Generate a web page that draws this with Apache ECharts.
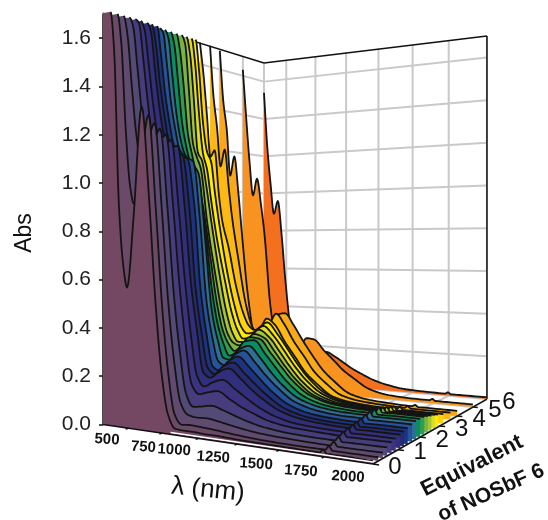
<!DOCTYPE html>
<html><head><meta charset="utf-8">
<style>html,body{margin:0;padding:0;background:#fff}#c{width:548px;height:520px}</style>
<script src="https://cdn.jsdelivr.net/npm/echarts@6/dist/echarts.min.js"></script>
</head><body><div id="c"></div>
<script>
const lambdaGrid=[550,580,610,640,675,710,740,790,850,905,950,995,1040,1090,1150,1225,1300,1373,1450,1565,1700,1850,1975,1995,2015,2100,2250];
const eqValues=[0,0.2,0.38,0.55,0.73,0.9,1.1,1.25,1.42,1.62,1.8,2,2.2,2.38,2.56,2.75,2.9,3.2,3.6,4,5,6];
const abs00=[1.7,1.7,1.7,1.53,0.92,0.66,0.57,0.86,1.3,0.93,0.53,0.24,0.08,0.025,0.022,0.022,0.02,0.02,0.018,0.016,0.015,0.014,0.013,0.025,0.012,0.012,0.01];
const abs01=[1.7,1.7,1.7,1.58,1.22,0.98,0.91,1.06,1.27,0.88,0.5,0.23,0.07,0.032,0.035,0.033,0.03,0.026,0.022,0.017,0.014,0.013,0.013,0.028,0.013,0.013,0.013];
const abs02=[1.7,1.7,1.7,1.62,1.4,1.2,1.1,1.15,1.24,0.88,0.52,0.27,0.11,0.065,0.058,0.06,0.054,0.046,0.038,0.029,0.024,0.021,0.02,0.035,0.019,0.019,0.02];
const abs03=[1.7,1.7,1.7,1.66,1.48,1.29,1.18,1.17,1.22,0.89,0.55,0.31,0.14,0.09,0.095,0.103,0.09,0.075,0.06,0.044,0.035,0.031,0.03,0.045,0.028,0.029,0.03];
const abs04=[1.7,1.7,1.7,1.68,1.52,1.34,1.22,1.17,1.2,0.89,0.58,0.34,0.17,0.135,0.145,0.155,0.13,0.105,0.085,0.06,0.047,0.042,0.04,0.055,0.038,0.039,0.04];
const abs05=[1.7,1.7,1.7,1.66,1.5,1.33,1.22,1.16,1.18,0.89,0.6,0.37,0.2,0.16,0.18,0.195,0.165,0.135,0.105,0.073,0.054,0.048,0.046,0.062,0.044,0.045,0.045];
const abs06=[1.7,1.7,1.7,1.66,1.48,1.32,1.22,1.15,1.16,0.89,0.58,0.38,0.21,0.19,0.215,0.235,0.2,0.16,0.125,0.085,0.063,0.054,0.051,0.066,0.049,0.05,0.05];
const abs07=[1.7,1.7,1.7,1.62,1.44,1.3,1.2,1.13,1.125,0.89,0.56,0.37,0.225,0.2,0.235,0.255,0.215,0.175,0.135,0.09,0.067,0.058,0.056,0.071,0.054,0.055,0.055];
const abs08=[1.7,1.7,1.7,1.58,1.4,1.27,1.18,1.12,1.11,0.9,0.55,0.36,0.225,0.21,0.25,0.275,0.235,0.19,0.145,0.097,0.072,0.063,0.061,0.076,0.059,0.06,0.06];
const abs09=[1.7,1.7,1.68,1.54,1.36,1.24,1.16,1.12,1.1,0.82,0.5,0.34,0.24,0.225,0.27,0.295,0.25,0.2,0.155,0.103,0.078,0.068,0.067,0.082,0.064,0.065,0.065];
const abs10=[1.7,1.7,1.66,1.5,1.32,1.2,1.14,1.1,1.05,0.74,0.46,0.33,0.25,0.245,0.29,0.31,0.265,0.21,0.16,0.108,0.083,0.073,0.072,0.087,0.069,0.07,0.07];
const abs11=[1.7,1.7,1.64,1.48,1.28,1.17,1.1,1.02,0.85,0.56,0.4,0.31,0.255,0.27,0.32,0.329,0.275,0.22,0.165,0.11,0.083,0.074,0.072,0.088,0.069,0.07,0.07];
const abs12=[1.7,1.7,1.62,1.46,1.24,1.14,1.06,0.93,0.7,0.48,0.36,0.3,0.27,0.295,0.335,0.33,0.275,0.22,0.165,0.11,0.083,0.074,0.072,0.088,0.069,0.07,0.07];
const abs13=[1.7,1.7,1.66,1.46,1.2,1.13,1.08,0.84,0.62,0.44,0.34,0.3,0.29,0.31,0.345,0.33,0.272,0.212,0.158,0.102,0.077,0.069,0.066,0.081,0.064,0.065,0.065];
const abs14=[1.7,1.7,1.62,1.42,1.16,1.12,1.02,0.82,0.6,0.43,0.34,0.3,0.3,0.325,0.36,0.33,0.27,0.208,0.153,0.098,0.072,0.064,0.061,0.076,0.059,0.06,0.06];
const abs15=[1.7,1.7,1.58,1.36,1.16,1.08,0.95,0.76,0.58,0.43,0.35,0.31,0.315,0.345,0.372,0.33,0.268,0.205,0.15,0.094,0.067,0.059,0.056,0.07,0.054,0.055,0.055];
const abs16=[1.7,1.7,1.55,1.32,1.17,1.12,0.98,0.78,0.58,0.44,0.36,0.33,0.335,0.36,0.385,0.335,0.27,0.205,0.148,0.09,0.062,0.055,0.052,0.065,0.05,0.05,0.05];
const abs17=[1.7,1.55,1.35,1.15,1.18,0.97,0.84,0.72,0.54,0.42,0.36,0.34,0.35,0.395,0.37,0.295,0.23,0.165,0.12,0.068,0.05,0.043,0.041,0.052,0.04,0.04,0.04];
const abs18=[1.7,1.45,1.3,1.11,1.19,1.0,0.85,0.66,0.45,0.34,0.31,0.31,0.36,0.41,0.365,0.285,0.22,0.155,0.11,0.059,0.041,0.034,0.031,0.04,0.03,0.03,0.03];
const abs19=[1.69,1.44,1.3,1.07,1.163,0.98,0.78,0.48,0.27,0.24,0.26,0.3,0.4,0.405,0.355,0.28,0.211,0.15,0.105,0.052,0.033,0.026,0.023,0.03,0.022,0.022,0.022];
const abs20=[1.63,1.38,1.15,0.98,1.065,0.93,0.78,0.42,0.2,0.15,0.15,0.17,0.22,0.265,0.26,0.21,0.165,0.12,0.085,0.04,0.02,0.014,0.013,0.02,0.012,0.012,0.012];
const abs21=[1.54,1.25,1.05,0.89,0.957,0.77,0.55,0.28,0.15,0.1,0.09,0.11,0.15,0.172,0.155,0.125,0.095,0.072,0.05,0.028,0.014,0.01,0.009,0.016,0.008,0.008,0.008];
const traces=[abs00,abs01,abs02,abs03,abs04,abs05,abs06,abs07,abs08,abs09,abs10,abs11,abs12,abs13,abs14,abs15,abs16,abs17,abs18,abs19,abs20,abs21];
const traceColors=['#744763','#6B4A68','#604A70','#544A76','#473C7C','#3B3380','#312E7C','#262A6E','#1D3382','#24539C','#2F6F94','#0C8C62','#2E9E50','#7AB342','#A3C639','#DEDC1F','#FFEC00','#FFD20A','#FDB913','#F9A81A','#F7931E','#F4701F'];
const absTicks=[0,0.2,0.4,0.6,0.8,1.0,1.2,1.4,1.6];
const lambdaTicks=[750,1000,1250,1500,1750,2000,2250];
const lambdaLabels=['500','750','1000','1250','1500','1750','2000'];
const lambdaLabelAt=[550,750,1000,1250,1500,1750,2000];
const lambdaLabelShift=[[4,15],[15,19],[12,17],[15,19],[19,20],[22,21],[24,20]];
const eqTicks=[0,1,2,3,4,5,6];
const LMIN=550,LMAX=2250,EMAX=6,AMAX=1.7;

// perspective box: floor corners and vertical scale of the 3-D axes frame
const P={x0:103,y0:424.5,a:187.6,b:246.4,c:-62.95,e:78.5,g:-0.2208,h:0.3236,s0:242,gs:-0.164,hs:0.2976};
const GRID={left:103,top:14,width:445,height:410.5};
function project(l,q,v){
  const u=(l-LMIN)/(LMAX-LMIN),w=q/EMAX;
  const d=1+P.g*u+P.h*w;
  const X=(P.x0+P.a*u+P.b*w)/d,Yf=(P.y0+P.c*u+P.e*w)/d;
  const S=P.s0/(1+P.gs*u+P.hs*w);
  return [X-P.x0,(P.y0-(Yf-v*S))/(GRID.height/AMAX)];
}
// monotone cubic through the read values, used only to draw a smooth curve
function curve(ys){
  const xs=lambdaGrid,n=xs.length,dl=[],m=[];
  for(let i=0;i<n-1;i++)dl.push((ys[i+1]-ys[i])/(xs[i+1]-xs[i]));
  m[0]=dl[0];m[n-1]=dl[n-2];
  for(let i=1;i<n-1;i++){
    if(dl[i-1]*dl[i]<=0)m[i]=0;
    else{const h0=xs[i]-xs[i-1],h1=xs[i+1]-xs[i];m[i]=3*(h0+h1)/((2*h1+h0)/dl[i-1]+(h1+2*h0)/dl[i]);}
  }
  const out=[];
  for(let i=0;i<n-1;i++){
    const h=xs[i+1]-xs[i],st=6;
    for(let k=0;k<st;k++){
      const t=k/st,t2=t*t,t3=t2*t;
      out.push([xs[i]+t*h,
        (2*t3-3*t2+1)*ys[i]+(t3-2*t2+t)*h*m[i]+(-2*t3+3*t2)*ys[i+1]+(t3-t2)*h*m[i+1]]);
    }
  }
  out.push([xs[n-1],ys[n-1]]);
  return out;
}
const grey='#c9c9c9';
const wallSegs=[];
lambdaTicks.forEach(l=>{wallSegs.push([l,EMAX,0,l,EMAX,AMAX]);wallSegs.push([l,0,0,l,EMAX,0]);});
absTicks.slice(1).forEach(a=>{wallSegs.push([LMIN,EMAX,a,LMAX,EMAX,a]);wallSegs.push([LMIN,0,a,LMIN,EMAX,a]);});
eqTicks.slice(1).forEach(q=>{wallSegs.push([LMIN,q,0,LMIN,q,AMAX]);if(q<EMAX)wallSegs.push([LMIN,q,0,LMAX,q,0]);});
wallSegs.push([LMIN,EMAX,0,LMAX,EMAX,0]);
const frameSegs=[[LMIN,0,AMAX,LMIN,EMAX,AMAX],[LMIN,EMAX,AMAX,LMAX,EMAX,AMAX],[LMAX,EMAX,AMAX,LMAX,EMAX,0]];
const axisSegs=[[LMIN,0,0,LMAX,0,0],[LMAX,0,0,LMAX,EMAX,0]];
lambdaTicks.slice(0,6).forEach(l=>axisSegs.push([l,0,0,l,-0.08,0]));
eqTicks.slice(0,6).forEach(q=>axisSegs.push([LMAX,q,0,LMAX+30,q,0]));
const sliverSegs=[[1060,0,0.007,LMAX,0,0.007]];

function segSeries(segs,color,width,z){
  return {type:'custom',coordinateSystem:'cartesian2d',z,silent:true,animation:false,clip:false,
    data:segs.map((s,i)=>[i]),
    renderItem(p,api){const s=segs[api.value(0)];
      const a=api.coord(project(s[0],s[1],s[2])),b=api.coord(project(s[3],s[4],s[5]));
      return {type:'line',shape:{x1:a[0],y1:a[1],x2:b[0],y2:b[1]},style:{stroke:color,lineWidth:width,fill:null}};}};
}
const curtains={type:'custom',coordinateSystem:'cartesian2d',z:3,silent:true,animation:false,clip:false,
  data:traces.map((t,i)=>[traces.length-1-i]),
  renderItem(p,api){
    const i=api.value(0),q=eqValues[i];
    const pts=curve(traces[i]);
    let first=0;pts.forEach((d,k)=>{if(d[1]>=AMAX-1e-6)first=k;});
    const toPx=d=>api.coord(project(d[0],q,Math.min(d[1],AMAX)));
    const line=pts.slice(first).map(toPx);
    const poly=[api.coord(project(LMIN,q,0))].concat(pts.map(toPx),[api.coord(project(LMAX,q,0))]);
    return {type:'group',children:[
      {type:'polygon',shape:{points:poly},style:{fill:traceColors[i],stroke:null}},
      {type:'polyline',shape:{points:line},style:{stroke:'#141414',lineWidth:1.8,fill:null,lineJoin:'round'}}
    ]};
  }};
const textFont='"Liberation Sans",Arial,sans-serif';
const lambdaText={type:'custom',coordinateSystem:'cartesian2d',z:6,silent:true,animation:false,clip:false,
  data:lambdaLabels.map((s,i)=>[i]),
  renderItem(p,api){const i=api.value(0),c=api.coord(project(lambdaLabelAt[i],0,0)),o=lambdaLabelShift[i];
    return {type:'text',x:c[0]+o[0],y:c[1]+o[1],rotation:-0.06,style:{text:lambdaLabels[i],font:'bold 15px '+textFont,fill:'#111',align:'center',verticalAlign:'middle'}};}};
const eqText={type:'custom',coordinateSystem:'cartesian2d',z:6,silent:true,animation:false,clip:false,
  data:eqTicks.map((s,i)=>[i]),
  renderItem(p,api){const q=eqTicks[api.value(0)],c=api.coord(project(LMAX,q,0));
    return {type:'text',x:c[0]+22,y:c[1]+3,style:{text:String(q),font:'24px '+textFont,fill:'#111',align:'center',verticalAlign:'middle'}};}};

const chart=echarts.init(document.getElementById('c'),null,{renderer:'canvas'});
chart.setOption({
  animation:false,backgroundColor:'#fff',
  grid:{left:GRID.left,top:GRID.top,width:GRID.width,height:GRID.height,containLabel:false},
  xAxis:{type:'value',min:0,max:GRID.width,show:false},
  yAxis:{type:'value',min:0,max:AMAX,position:'left',
    axisLine:{show:true,onZero:false,lineStyle:{color:'#111',width:1.5}},
    axisTick:{show:true,length:4,inside:false,customValues:absTicks,lineStyle:{color:'#111',width:1.5}},
    axisLabel:{show:true,margin:12,fontSize:21,color:'#222',fontFamily:textFont,customValues:absTicks,formatter:v=>Number(v).toFixed(1)},
    splitLine:{show:false}},
  graphic:[
    {type:'text',x:25,y:233,rotation:Math.PI/2,style:{text:'Abs',font:'23px '+textFont,fill:'#111',align:'center',verticalAlign:'middle'}},
    {type:'text',x:208,y:490,rotation:-0.1,style:{text:'λ (nm)',font:'26px '+textFont,fill:'#111',align:'center',verticalAlign:'middle'}},
    {type:'text',x:472,y:466,rotation:0.47,style:{text:'Equivalent',font:'bold 22px '+textFont,fill:'#111',align:'center',verticalAlign:'middle'}},
    {type:'text',x:491,y:493,rotation:0.42,style:{text:'of NOSbF 6',font:'bold 21px '+textFont,fill:'#111',align:'center',verticalAlign:'middle'}}
  ],
  series:[
    segSeries(wallSegs,grey,2,1),
    segSeries(frameSegs,'#111',1.5,2),
    curtains,
    segSeries(sliverSegs,'#fff',1.5,4),
    segSeries(axisSegs,'#111',1.5,5),
    lambdaText,eqText
  ]
});
</script></body></html>
